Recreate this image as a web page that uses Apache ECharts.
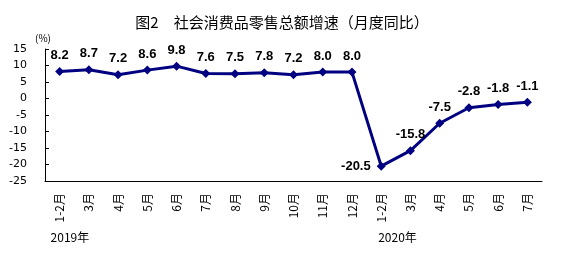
<!DOCTYPE html>
<html><head><meta charset="utf-8">
<script src="https://cdn.jsdelivr.net/npm/echarts@6/dist/echarts.min.js"></script>
<style>html,body{margin:0;padding:0;background:#fff}#c{width:564px;height:254px}</style>
</head><body><div id="c"></div>
<script>
var categories = ['1-2月','3月','4月','5月','6月','7月','8月','9月','10月','11月','12月','1-2月','3月','4月','5月','6月','7月'];
var values = [8.2, 8.7, 7.2, 8.6, 9.8, 7.6, 7.5, 7.8, 7.2, 8.0, 8.0, -20.5, -15.8, -7.5, -2.8, -1.8, -1.1];
var yearLabels = ['2019年', '2020年'];
var yearIndex = [0, 11];
var title = '图2　社会消费品零售总额增速（月度同比）';

var chart = echarts.init(document.getElementById('c'), null, {renderer: 'canvas'});
var cjk = '"Noto Sans CJK SC", sans-serif';
var dataItems = values.map(function (v, i) {
  var item = {value: v};
  if (i === 11) item.label = {position: 'left', distance: 6};
  return item;
});
chart.setOption({
  animation: false,
  title: {text: title, left: 'center', top: 10, textStyle: {fontFamily: cjk, fontSize: 15, fontWeight: 'normal', color: '#000'}},
  grid: {left: 45, right: 22, top: 49, bottom: 73},
  xAxis: {
    type: 'category', data: categories, boundaryGap: true,
    axisLine: {onZero: false, lineStyle: {color: '#000', width: 1}},
    axisTick: {inside: true, length: 4, lineStyle: {color: '#000'}},
    axisLabel: {rotate: 90, interval: 0, margin: 12, fontFamily: cjk, fontSize: 12, color: '#000'}
  },
  yAxis: {
    type: 'value', min: -25, max: 15, interval: 5,
    name: '(%)', nameGap: 6, nameTextStyle: {fontFamily: cjk, fontSize: 10, color: '#000', align: 'center', padding: [0, 4, 0, 0]},
    axisLine: {show: true, lineStyle: {color: '#000', width: 1}},
    axisTick: {show: true, inside: true, length: 4, lineStyle: {color: '#000'}},
    splitLine: {show: false},
    axisLabel: {margin: 18, fontFamily: '"DejaVu Sans", sans-serif', fontSize: 11, color: '#000'}
  },
  series: [{
    type: 'line', data: dataItems,
    symbol: 'diamond', symbolSize: 9,
    lineStyle: {color: '#000080', width: 3},
    itemStyle: {color: '#000080'},
    label: {show: true, position: 'top', distance: 5, fontFamily: '"Liberation Sans", Arial, sans-serif', fontSize: 13, fontWeight: 'bold', color: '#000',
      formatter: function (p) { return p.value.toFixed(1); }}
  }]
});
var gy = 238;
var g = yearIndex.map(function (idx, k) {
  var px = chart.convertToPixel({xAxisIndex: 0}, idx);
  return {type: 'text', left: px - (k === 0 ? 9 : 3), top: gy - 7,
    style: {text: yearLabels[k], font: '12px ' + cjk, fill: '#000'}};
});
chart.setOption({graphic: g});
</script></body></html>
